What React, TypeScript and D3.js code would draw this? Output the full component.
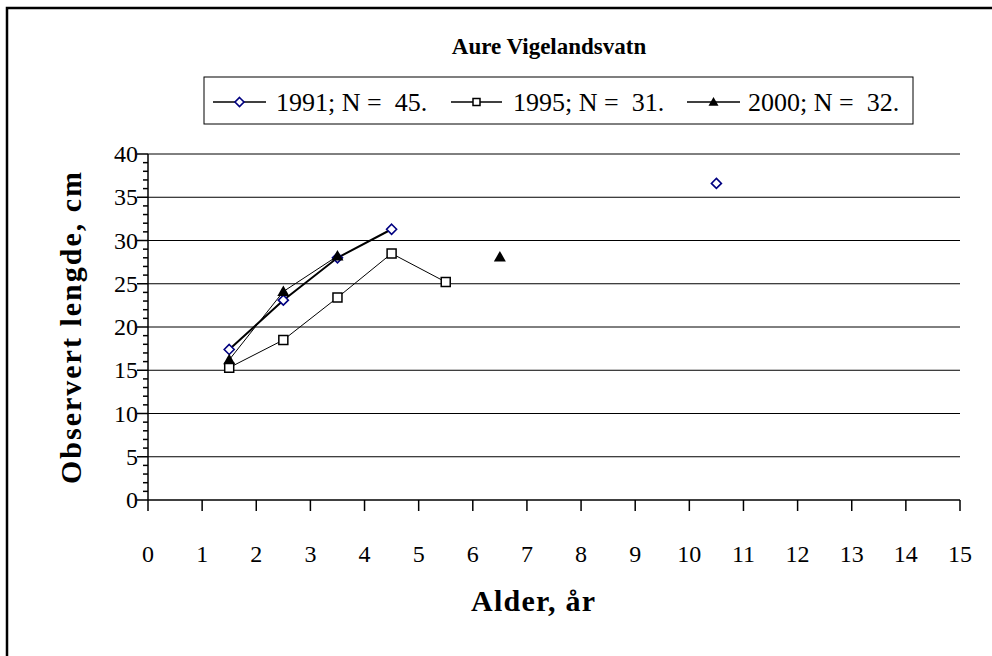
import React from "react";
import * as d3 from "d3";

const ages = [1.5, 2.5, 3.5, 4.5, 5.5, 6.5, 10.5];
const s1991 = [17.4, 23.1, 28.0, 31.3, null, null, 36.6];
const s1995 = [15.3, 18.5, 23.4, 28.5, 25.2, null, null];
const s2000 = [16.2, 24.1, 28.2, null, null, 28.1, null];
const xTicks = d3.range(0, 16);
const yTicks = d3.range(0, 41, 5);
const yMinor = d3.range(0, 41, 1);
const legendLabels = ["1991; N =  45.", "1995; N =  31.", "2000; N =  32."];

const font = "'Liberation Serif', 'Times New Roman', serif";

const diamond = (cx: number, cy: number, r: number) =>
  `M${cx},${cy - r}L${cx + r},${cy}L${cx},${cy + r}L${cx - r},${cy}Z`;
const square = (cx: number, cy: number, r: number) =>
  `M${cx - r},${cy - r}h${2 * r}v${2 * r}h${-2 * r}Z`;
const triangle = (cx: number, cy: number, r: number) =>
  `M${cx},${cy - r}L${cx + r},${cy + r * 0.75}L${cx - r},${cy + r * 0.75}Z`;

export default function App() {
  const x = d3.scaleLinear().domain([0, 15]).range([148, 960]);
  const y = d3.scaleLinear().domain([0, 40]).range([500, 154]);

  const line = d3
    .line<[number, number | null]>()
    .defined((d) => d[1] !== null)
    .x((d) => x(d[0]))
    .y((d) => y(d[1] as number));

  const pts = (s: (number | null)[]) =>
    ages.map((a, i) => [a, s[i]] as [number, number | null]);

  const series = [
    { data: s1991, width: 2, marker: "diamond" },
    { data: s1995, width: 1, marker: "square" },
    { data: s2000, width: 1, marker: "triangle" },
  ];

  const drawMarker = (m: string, cx: number, cy: number, big: boolean) => {
    if (m === "diamond")
      return (
        <path d={diamond(cx, cy, big ? 5 : 4.5)} fill="white" stroke="#000080" strokeWidth={1.6} />
      );
    if (m === "square")
      return (
        <path d={square(cx, cy, big ? 4.5 : 3.5)} fill="white" stroke="black" strokeWidth={1.5} />
      );
    return <path d={triangle(cx, cy, big ? 6 : 5)} fill="black" />;
  };

  const legendItems = [
    { x1: 213, x2: 266, tx: 276 },
    { x1: 451, x2: 502, tx: 513 },
    { x1: 687, x2: 740, tx: 748 },
  ];

  return (
    <svg
      width={992}
      height={656}
      style={{ position: "absolute", left: 0, top: 0, background: "white" }}
      fontFamily={font}
    >
      <rect x={7} y={8} width={1100} height={800} fill="white" stroke="black" strokeWidth={2.5} />

      <text x={549} y={54} textAnchor="middle" fontSize={23} fontWeight="bold">
        Aure Vigelandsvatn
      </text>

      {/* legend */}
      <rect x={204} y={77} width={709} height={47} fill="white" stroke="black" strokeWidth={1} />
      {legendItems.map((it, i) => (
        <g key={i}>
          <line x1={it.x1} x2={it.x2} y1={102} y2={102} stroke="black" strokeWidth={1.5} />
          {drawMarker(series[i].marker, (it.x1 + it.x2) / 2, 102, false)}
          <text x={it.tx} y={111} fontSize={26} style={{ whiteSpace: "pre" }}>
            {legendLabels[i]}
          </text>
        </g>
      ))}

      {/* grid */}
      {yTicks.slice(1).map((t) => (
        <line key={t} x1={148} x2={960} y1={y(t)} y2={y(t)} stroke="black" strokeWidth={1} />
      ))}

      {/* y axis */}
      <line x1={148} x2={148} y1={y(40)} y2={y(0)} stroke="black" strokeWidth={1.5} />
      {yMinor.map((t) => (
        <line key={t} x1={t % 5 === 0 ? 137 : 143} x2={148} y1={y(t)} y2={y(t)} stroke="black" strokeWidth={1.5} />
      ))}
      {yTicks.map((t) => (
        <text key={t} x={138} y={y(t) + 8} textAnchor="end" fontSize={24}>
          {t}
        </text>
      ))}

      {/* x axis */}
      <line x1={148} x2={960} y1={y(0)} y2={y(0)} stroke="black" strokeWidth={1.5} />
      {xTicks.map((t) => (
        <g key={t}>
          <line x1={x(t)} x2={x(t)} y1={500} y2={511} stroke="black" strokeWidth={1.5} />
          <text x={x(t)} y={562} textAnchor="middle" fontSize={24}>
            {t}
          </text>
        </g>
      ))}

      <text
        x={533}
        y={611}
        textAnchor="middle"
        fontSize={30}
        fontWeight="bold"
        textLength={124}
        lengthAdjust="spacing"
      >
        Alder, år
      </text>
      <text
        transform={`translate(81, 328) rotate(-90)`}
        textAnchor="middle"
        fontSize={30}
        fontWeight="bold"
        textLength={312}
        lengthAdjust="spacing"
      >
        Observert lengde, cm
      </text>

      {/* series */}
      {series.map((s, i) => (
        <path key={i} d={line(pts(s.data)) || ""} fill="none" stroke="black" strokeWidth={s.width} />
      ))}
      {series.map((s, i) =>
        pts(s.data)
          .filter((d) => d[1] !== null)
          .map((d, j) => <g key={`${i}-${j}`}>{drawMarker(s.marker, x(d[0]), y(d[1] as number), true)}</g>)
      )}
    </svg>
  );
}
